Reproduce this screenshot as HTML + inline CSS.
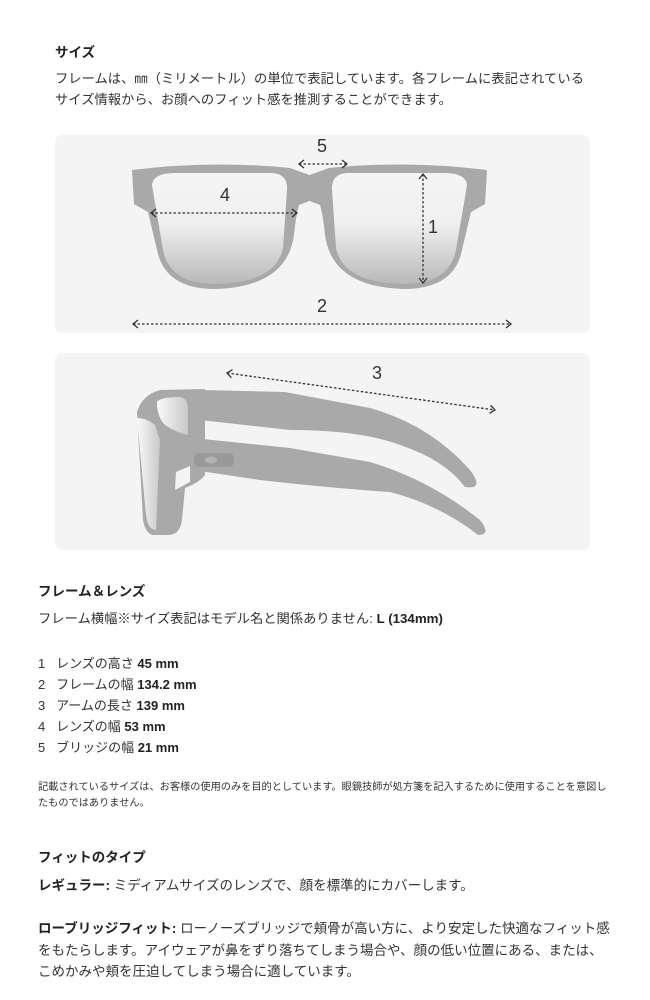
<!DOCTYPE html>
<html><head><meta charset="utf-8">
<style>
*{margin:0;padding:0;box-sizing:border-box}
body{width:650px;height:1000px;background:#fff;font-family:"Liberation Sans","Noto Sans CJK JP",sans-serif;color:#222;position:relative;overflow:hidden}
.t{position:absolute;white-space:nowrap}
b{font-weight:bold}
</style></head><body>
<div class="t" style="left:55px;top:41px;font-size:13.5px;font-weight:bold">サイズ</div>
<div class="t" style="left:55px;top:68px;font-size:13.3px;line-height:21px;color:#333">フレームは、㎜（ミリメートル）の単位で表記しています。各フレームに表記されている<br>サイズ情報から、お顔へのフィット感を推測することができます。</div>

<svg style="position:absolute;left:0;top:0" width="650" height="560" viewBox="0 0 650 560">
<defs>
<linearGradient id="lg" x1="0" y1="0" x2="0" y2="1">
<stop offset="0" stop-color="#f5f5f5"/><stop offset="0.45" stop-color="#f0f0f0"/><stop offset="1" stop-color="#b9b9b9"/>
</linearGradient>
<linearGradient id="sg" x1="0" y1="0" x2="1" y2="0">
<stop offset="0" stop-color="#fafafa"/><stop offset="1" stop-color="#c8c8c8"/>
</linearGradient>
<marker id="ah" viewBox="0 0 10 10" refX="8" refY="5" markerWidth="10" markerHeight="10" orient="auto-start-reverse" markerUnits="userSpaceOnUse"><path d="M3,1 L8,5 L3,9" fill="none" stroke="#333" stroke-width="1.3"/></marker>
</defs>
<rect x="55" y="135" width="535" height="198" rx="7" fill="#f4f4f4"/>
<rect x="55" y="353" width="535" height="197" rx="7" fill="#f4f4f4"/>

<g fill="#a9a9a9">
<path d="M132,170 Q210,160 290,168 L312,176 L312,200 L299,205 Q296,215 294,235 Q287,287 215,289 Q165,289 157,250 L148,212 L134,204 Z"/>
<path d="M487,170 Q409,160 329,168 L307,176 L307,200 L320,205 Q323,215 325,235 Q332,287 404,289 Q454,289 462,250 L471,212 L485,204 Z"/>
<rect x="298" y="177" width="24" height="23"/>
</g>
<path d="M152,185 Q153,173 175,173 L272,173 Q288,174 287,190 L283,248 Q276,283 215,284 Q170,284 163,250 Z" fill="url(#lg)"/>
<path d="M467,185 Q466,173 444,173 L347,173 Q331,174 332,190 L336,248 Q343,283 404,284 Q449,284 456,250 Z" fill="url(#lg)"/>

<g stroke="#333" stroke-width="1.3" stroke-dasharray="2.5,2" fill="none">
<line x1="299" y1="164" x2="347" y2="164" marker-start="url(#ah)" marker-end="url(#ah)"/>
<line x1="151" y1="213" x2="297" y2="213" marker-start="url(#ah)" marker-end="url(#ah)"/>
<line x1="423" y1="174" x2="423" y2="283" marker-start="url(#ah)" marker-end="url(#ah)"/>
<line x1="133" y1="324" x2="511" y2="324" marker-start="url(#ah)" marker-end="url(#ah)"/>
<line x1="227" y1="373" x2="495" y2="410" marker-start="url(#ah)" marker-end="url(#ah)"/>
</g>
<g font-family="Liberation Sans, sans-serif" font-size="18" fill="#333" text-anchor="middle">
<text x="322" y="152">5</text>
<text x="225" y="201">4</text>
<text x="433" y="233">1</text>
<text x="322" y="312">2</text>
<text x="377" y="379">3</text>
</g>

<g fill="#a9a9a9">
<path d="M137,412 Q142,395 160,390 L205,389 L205,475 Q200,482 185,488 L182,520 Q180,535 168,535 L152,535 Q145,532 143,520 Z"/>
<path d="M200,390 L285,392 L370,408 Q430,425 470,470 Q485,490 465,487 Q445,460 400,445 Q360,430 290,430 L200,420 Z"/>
<path d="M193,438 L290,448 L370,462 Q430,480 480,520 Q492,535 478,535 Q440,505 390,492 Q330,488 260,480 L193,470 Z"/>
</g>
<path d="M137,418 Q147,418 155,425 L160,440 L156,530 Q148,530 146,515 Z" fill="url(#sg)"/>
<path d="M157,402 Q160,397 180,397 Q188,398 188,410 L188,435 Q175,432 165,425 Q158,418 157,405 Z" fill="url(#sg)"/>
<path d="M176,472 L190,466 L190,482 L175,490 Z" fill="#f4f4f4"/>
<rect x="194" y="453" width="40" height="14" rx="5" fill="#999"/>
<ellipse cx="211" cy="460" rx="6" ry="3.5" fill="#b3b3b3"/>
</svg>

<div class="t" style="left:38px;top:580px;font-size:13.5px;font-weight:bold">フレーム＆レンズ</div>
<div class="t" style="left:38px;top:608px;font-size:13.3px;color:#333">フレーム横幅※サイズ表記はモデル名と関係ありません: <b style="color:#222">L (134mm)</b></div>
<div class="t" style="left:38px;top:653px;font-size:13px;line-height:21px;color:#333">
1&nbsp;&nbsp;&nbsp;レンズの高さ <b style="color:#222">45 mm</b><br>
2&nbsp;&nbsp;&nbsp;フレームの幅 <b style="color:#222">134.2 mm</b><br>
3&nbsp;&nbsp;&nbsp;アームの長さ <b style="color:#222">139 mm</b><br>
4&nbsp;&nbsp;&nbsp;レンズの幅 <b style="color:#222">53 mm</b><br>
5&nbsp;&nbsp;&nbsp;ブリッジの幅 <b style="color:#222">21 mm</b></div>
<div class="t" style="left:38px;top:780px;font-size:10.2px;line-height:16px;color:#333">記載されているサイズは、お客様の使用のみを目的としています。眼鏡技師が処方箋を記入するために使用することを意図し<br>たものではありません。</div>

<div class="t" style="left:38px;top:846px;font-size:13.5px;font-weight:bold">フィットのタイプ</div>
<div class="t" style="left:38px;top:874px;font-size:13.5px;color:#333"><b style="color:#222">レギュラー:</b> ミディアムサイズのレンズで、顔を標準的にカバーします。</div>
<div class="t" style="left:38px;top:918px;font-size:13.5px;line-height:21.5px;color:#333"><b style="color:#222">ローブリッジフィット:</b> ローノーズブリッジで頬骨が高い方に、より安定した快適なフィット感<br>をもたらします。アイウェアが鼻をずり落ちてしまう場合や、顔の低い位置にある、または、<br>こめかみや頬を圧迫してしまう場合に適しています。</div>
</body></html>
